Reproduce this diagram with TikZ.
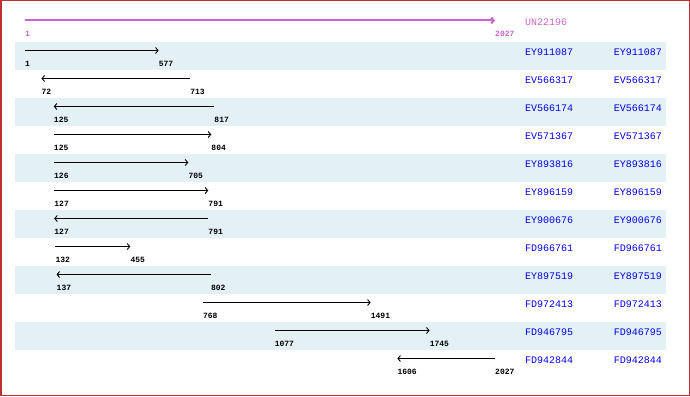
\documentclass[tikz,border=0pt]{standalone}
\usepackage{fontspec}
\setmonofont{Liberation Mono}
\usetikzlibrary{arrows.meta}
\definecolor{band}{HTML}{E3F0F5}
\definecolor{hdr}{HTML}{CC66CC}
\definecolor{idblue}{HTML}{0000EE}
\definecolor{frame}{HTML}{C03030}
\tikzset{
  gene/.style={line width=0.9pt, black},
  fwd/.style={-{Straight Barb[length=2.5pt,width=6pt]}},
  rev/.style={{Straight Barb[length=2.5pt,width=6pt]}-},
  numlbl/.style={anchor=west, inner sep=0pt, font=\ttfamily\bfseries\fontsize{8}{9}\selectfont},
  idlbl/.style={inner sep=0pt, text=idblue, font=\ttfamily\fontsize{10}{11}\selectfont},
}
\begin{document}
\begin{tikzpicture}[x=1pt,y=-1pt]
\useasboundingbox (0,0) rectangle (690,396);
\fill[white] (0,0) rectangle (690,396);
\foreach \i in {0,2,4,6,8,10} {
  \fill[band] (15,{42+28*\i}) rectangle (666,{70+28*\i});
}
% header
\coordinate (h0) at (25,20.5);
\coordinate (h1) at (495,20.5);
\draw[line width=2pt, hdr, -{Straight Barb[length=2.5pt,width=6pt]}] (h0) -- (h1);
\node[numlbl, text=hdr] (hl0) at (25,34) {1};
\node[numlbl, text=hdr] (hl1) at (495,34) {2027};
\node[idlbl, anchor=west, text=hdr] (hid) at (525,22) {UN22196};
\foreach \id/\s/\e/\d [count=\i from 0] in {
  EY911087/1/577/fwd,
  EV566317/72/713/rev,
  EV566174/125/817/rev,
  EV571367/125/804/fwd,
  EY893816/126/705/fwd,
  EY896159/127/791/fwd,
  EY900676/127/791/rev,
  FD966761/132/455/fwd,
  EY897519/137/802/rev,
  FD972413/768/1491/fwd,
  FD946795/1077/1745/fwd,
  FD942844/1606/2027/rev} {
  \pgfmathsetmacro\top{42+28*\i}
  \pgfmathsetmacro\xs{25+(\s-1)/2026*470}
  \pgfmathsetmacro\xe{25+(\e-1)/2026*470}
  \coordinate (s\i) at (\xs,\top+8.5);
  \coordinate (e\i) at (\xe,\top+8.5);
  \draw[gene,\d] (s\i) -- (e\i);
  \node[numlbl] (ls\i) at (\xs,\top+22) {\s};
  \node[numlbl] (le\i) at (\xe,\top+22) {\e};
  \node[idlbl, anchor=west] (ida\i) at (525,\top+10) {\id};
  \node[idlbl, anchor=east] (idb\i) at (662,\top+10) {\id};
}
\draw[frame, line width=1.5pt] (0.75,0.75) rectangle (689.25,395.25);
\end{tikzpicture}
\end{document}
